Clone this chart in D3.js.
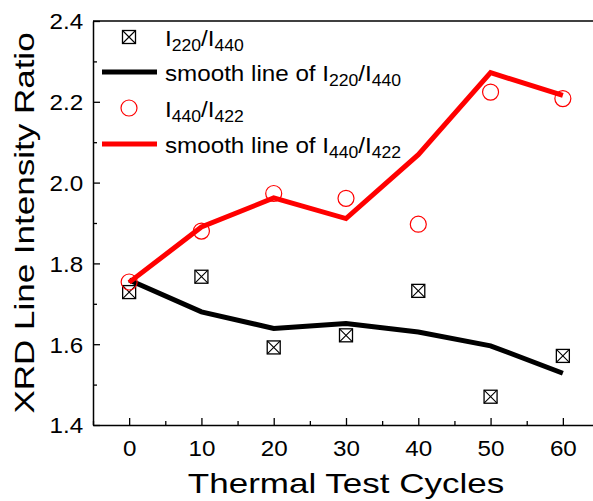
<!DOCTYPE html>
<html>
<head>
<meta charset="utf-8">
<script src="https://cdn.jsdelivr.net/npm/d3@7"></script>
<style>
  body { margin: 0; background: #fff; }
  text { font-family: "Liberation Sans", Arial, sans-serif; }
</style>
</head>
<body>
<svg id="chart" width="593" height="501"></svg>
<script>
// thermal cycles
var cycles = [0, 10, 20, 30, 40, 50, 60];
// measured ratios
var ratio220_440 = [1.729, 1.767, 1.592, 1.622, 1.732, 1.470, 1.571];
var ratio440_422 = [1.754, 1.880, 1.973, 1.961, 1.897, 2.224, 2.208];
// smoothed curves
var smooth220_440 = [1.759, 1.680, 1.639, 1.651, 1.630, 1.596, 1.528];
var smooth440_422 = [1.753, 1.890, 1.962, 1.911, 2.069, 2.272, 2.216];
var xTicks = [0, 10, 20, 30, 40, 50, 60];
var xMinor = [-5, 5, 15, 25, 35, 45, 55, 65];
var yTicks = [1.4, 1.6, 1.8, 2.0, 2.2, 2.4];
var yMinor = [1.5, 1.7, 1.9, 2.1, 2.3];

var svg = d3.select('#chart'),
    mLeft = 93, mTop = 21, mRight = 599, mBottom = 425;

var x = d3.scaleLinear().domain([-5, 65]).range([mLeft, mRight]);
var y = d3.scaleLinear().domain([1.4, 2.4]).range([mBottom, mTop]);

// frame top
svg.append("line")
   .attr("x1", mLeft).attr("x2", mRight)
   .attr("y1", mTop).attr("y2", mTop)
   .attr("stroke", "#000").attr("stroke-width", 1.5);

// minor ticks
svg.append("g").attr("transform", "translate(0," + mBottom + ")")
   .call(d3.axisBottom(x).tickValues(xMinor).tickSize(-4).tickSizeOuter(0).tickFormat(""))
   .call(function(g){ g.select(".domain").remove(); })
   .selectAll("line").attr("stroke-width", 1.3);
svg.append("g").attr("transform", "translate(" + mLeft + ",0)")
   .call(d3.axisLeft(y).tickValues(yMinor).tickSize(-4).tickSizeOuter(0).tickFormat(""))
   .call(function(g){ g.select(".domain").remove(); })
   .selectAll("line").attr("stroke-width", 1.3);

// x axis
var xa = svg.append("g").attr("transform", "translate(0," + mBottom + ")")
   .call(d3.axisBottom(x).tickValues(xTicks).tickSize(-7).tickSizeOuter(0));
xa.attr("font-size", 22).attr("font-family", "'Liberation Sans', Arial, sans-serif");
xa.select(".domain").attr("stroke-width", 1.5);
xa.selectAll("line").attr("stroke-width", 1.3);
xa.selectAll("text").attr("y", 31).attr("dy", 0).attr("fill", "#000")
  .attr("transform", "scale(1.1,1)");

// y axis
var ya = svg.append("g").attr("transform", "translate(" + mLeft + ",0)")
   .call(d3.axisLeft(y).tickValues(yTicks).tickSize(-7).tickSizeOuter(0).tickFormat(d3.format(".1f")));
ya.attr("font-size", 22).attr("font-family", "'Liberation Sans', Arial, sans-serif");
ya.select(".domain").attr("stroke-width", 1.5);
ya.selectAll("line").attr("stroke-width", 1.3);
ya.selectAll("text").attr("x", -9).attr("dy", "0.36em").attr("fill", "#000")
  .attr("transform", "scale(1.1,1)");

// axis titles
svg.append("text")
   .attr("transform", "translate(" + (mLeft + mRight) / 2 + ",493) scale(1.25,1)")
   .attr("text-anchor", "middle").attr("font-size", "28px")
   .text("Thermal Test Cycles");
svg.append("text")
   .attr("transform", "translate(34," + (mTop + mBottom) / 2 + ") rotate(-90) scale(1.25,1)")
   .attr("text-anchor", "middle").attr("font-size", "28px")
   .text("XRD Line Intensity Ratio");

// smooth lines
var line = d3.line()
             .x(function(d) { return x(d[0]); })
             .y(function(d) { return y(d[1]); });

svg.append("path")
   .datum(d3.zip(cycles, smooth220_440))
   .attr("d", line)
   .attr("fill", "none").attr("stroke", "#000").attr("stroke-width", 5);
svg.append("path")
   .datum(d3.zip(cycles, smooth440_422))
   .attr("d", line)
   .attr("fill", "none").attr("stroke", "#ff0000").attr("stroke-width", 5);

// markers
function squareMark(g, cx, cy) {
	var s = 6.5;
	g.append("rect").attr("x", cx - s).attr("y", cy - s)
	 .attr("width", 2 * s).attr("height", 2 * s)
	 .attr("fill", "#fff").attr("stroke", "#000").attr("stroke-width", 1.3);
	g.append("path")
	 .attr("d", "M" + (cx - s) + "," + (cy - s) + "L" + (cx + s) + "," + (cy + s) +
	            "M" + (cx + s) + "," + (cy - s) + "L" + (cx - s) + "," + (cy + s))
	 .attr("stroke", "#000").attr("stroke-width", 1.1);
}
function circleMark(g, cx, cy) {
	g.append("circle").attr("cx", cx).attr("cy", cy).attr("r", 8)
	 .attr("fill", "none").attr("stroke", "#ff0000").attr("stroke-width", 1.2);
}

var marks = svg.append("g");
cycles.forEach(function(c, i) {
	squareMark(marks, x(c), y(ratio220_440[i]));
});
cycles.forEach(function(c, i) {
	circleMark(marks, x(c), y(ratio440_422[i]));
});

// legend
var legend = svg.append("g");
var legendRows = [
	{ type: "square", pre: "", a: "220", b: "440", y: 46 },
	{ type: "line", color: "#000", pre: "smooth line of ", a: "220", b: "440", y: 81 },
	{ type: "circle", pre: "", a: "440", b: "422", y: 117 },
	{ type: "line", color: "#ff0000", pre: "smooth line of ", a: "440", b: "422", y: 153 }
];
legendRows.forEach(function(r) {
	var cy = r.y - 9;
	if (r.type == "square") squareMark(legend, 129, cy);
	else if (r.type == "circle") circleMark(legend, 129, cy);
	else legend.append("line").attr("x1", 102).attr("x2", 157)
	           .attr("y1", cy).attr("y2", cy)
	           .attr("stroke", r.color).attr("stroke-width", 5);
	var t = legend.append("text")
	              .attr("transform", "translate(165," + r.y + ") scale(1.1,1)")
	              .attr("font-size", "22px");
	t.append("tspan").text(r.pre + "I");
	t.append("tspan").attr("font-size", "16px").attr("dy", 5).text(r.a);
	t.append("tspan").attr("dy", -5).text("/I");
	t.append("tspan").attr("font-size", "16px").attr("dy", 5).text(r.b);
});
</script>
</body>
</html>
